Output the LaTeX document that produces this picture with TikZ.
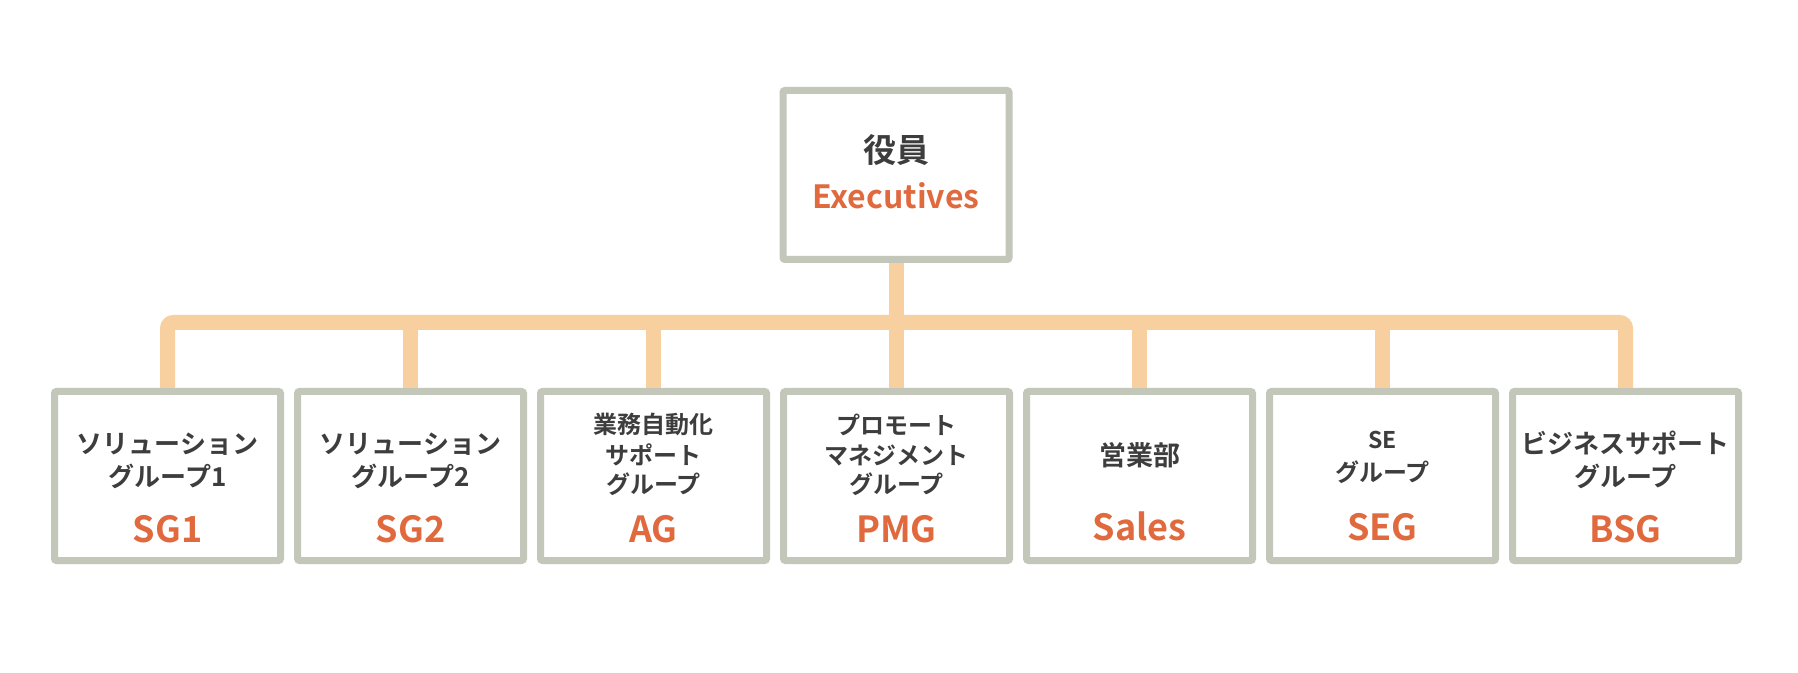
\documentclass[tikz,border=0pt]{standalone}
\usepackage{fontspec}
\newfontfamily\jpb{Noto Sans CJK JP Bold}
\usetikzlibrary{calc}
\definecolor{bordercol}{HTML}{C2C7BA}
\definecolor{barcol}{HTML}{F8CF9F}
\definecolor{orangecol}{HTML}{E06A3E}
\definecolor{darkcol}{HTML}{3D3D3D}
\tikzset{
  orgbox/.style={draw=bordercol, fill=white, line width=3.5pt, rounded corners=1pt,
    minimum width=113pt, minimum height=84.5pt, inner sep=0pt},
  conn/.style={draw=barcol, line width=7.5pt},
  jpl/.style={anchor=base, inner sep=0pt, text=darkcol, font=\jpb\fontsize{13pt}{15pt}\selectfont},
  jps/.style={anchor=base, inner sep=0pt, text=darkcol, font=\jpb\fontsize{12pt}{14pt}\selectfont},
  abbr/.style={anchor=base, inner sep=0pt, text=orangecol, font=\jpb\fontsize{18pt}{20pt}\selectfont},
}
\begin{document}
\begin{tikzpicture}[x=0.5pt, y=-0.5pt]
\useasboundingbox[fill=white] (0,0) rectangle (1798,673);
% boxes
\node[orgbox] (top) at (896,175) {};
\node[orgbox] (b1) at (167.5,476) {};
\node[orgbox] (b2) at (410.5,476) {};
\node[orgbox] (b3) at (653.5,476) {};
\node[orgbox] (b4) at (896.5,476) {};
\node[orgbox] (b5) at (1139.5,476) {};
\node[orgbox] (b6) at (1382.5,476) {};
\node[orgbox] (b7) at (1625.5,476) {};
% connectors
\coordinate (bus) at (896,322.5);
\draw[conn] (top.south) -- (top.south |- bus);
\draw[conn, rounded corners=3pt] (b1.north) -- (b1.north |- bus) -- (b7.north |- bus) -- (b7.north);
\draw[conn] (b2.north) -- (b2.north |- bus);
\draw[conn] (b3.north) -- (b3.north |- bus);
\draw[conn] (b4.north) -- (b4.north |- bus);
\draw[conn] (b5.north) -- (b5.north |- bus);
\draw[conn] (b6.north) -- (b6.north |- bus);
% top text
\node[anchor=base, inner sep=0pt, text=darkcol, font=\jpb\fontsize{16.5pt}{18pt}\selectfont] (topj) at (top |- 0,163) {役員};
\node[anchor=base, inner sep=0pt, text=orangecol, font=\jpb\fontsize{16pt}{18pt}\selectfont] (tope) at (top |- 0,209) {Executives};
% box 1
\node[jpl] (b1a) at (b1 |- 0,453) {ソリューション};
\node[jpl] (b1b) at (b1 |- 0,486) {グループ1};
\node[abbr] (b1e) at (b1 |- 0,542) {SG1};
% box 2
\node[jpl] (b2a) at (b2 |- 0,453) {ソリューション};
\node[jpl] (b2b) at (b2 |- 0,486) {グループ2};
\node[abbr] (b2e) at (b2 |- 0,542) {SG2};
% box 3
\node[jps] (b3a) at (b3 |- 0,433) {業務自動化};
\node[jps] (b3b) at (b3 |- 0,464) {サポート};
\node[jps] (b3c) at (b3 |- 0,493) {グループ};
\node[abbr] (b3e) at (b3 |- 0,542) {AG};
% box 4
\node[jps] (b4a) at (b4 |- 0,435) {プロモート};
\node[jps] (b4b) at (b4 |- 0,465) {マネジメント};
\node[jps] (b4c) at (b4 |- 0,493) {グループ};
\node[abbr] (b4e) at (b4 |- 0,542) {PMG};
% box 5
\node[anchor=base, inner sep=0pt, text=darkcol, font=\jpb\fontsize{13.5pt}{15pt}\selectfont] (b5a) at (b5 |- 0,466) {営業部};
\node[abbr] (b5e) at (b5 |- 0,540) {Sales};
% box 6
\node[anchor=base, inner sep=0pt, text=darkcol, font=\jpb\fontsize{11.5pt}{13pt}\selectfont] (b6a) at (b6 |- 0,448) {SE};
\node[jps] (b6b) at (b6 |- 0,481) {グループ};
\node[abbr] (b6e) at (b6 |- 0,540) {SEG};
% box 7
\node[jpl] (b7a) at (b7 |- 0,453) {ビジネスサポート};
\node[jpl] (b7b) at (b7 |- 0,486) {グループ};
\node[abbr] (b7e) at (b7 |- 0,542) {BSG};
\end{tikzpicture}
\end{document}
